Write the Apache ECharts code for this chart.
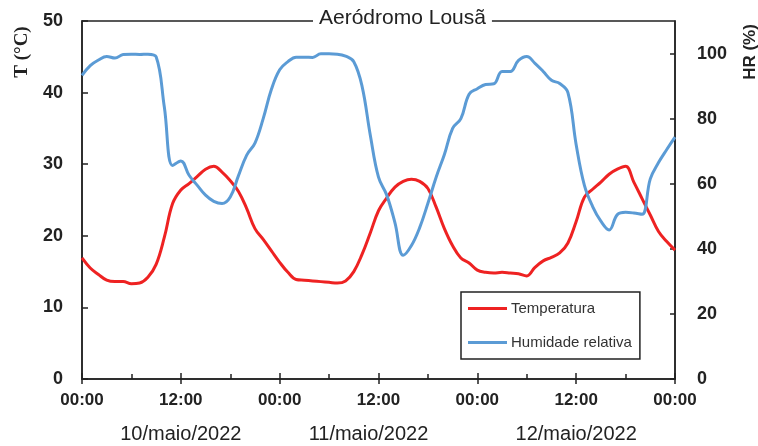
<!DOCTYPE html>
<html>
<head>
<meta charset="utf-8">
<script src="https://cdn.jsdelivr.net/npm/echarts@6/dist/echarts.min.js"></script>
<style>
  html, body { margin: 0; padding: 0; background: #fff; }
  #chart { width: 758px; height: 446px; }
</style>
</head>
<body>
<div id="chart"></div>
<script>
// horas desde 10/maio/2022 00:00
const hours = [
  0, 1, 2, 3, 4, 5, 6, 7, 8, 9, 10, 11,
  12, 13, 14, 15, 16, 17, 18, 19, 20, 21, 22, 23,
  24, 25, 26, 27, 28, 29, 30, 31, 32, 33, 34, 35,
  36, 37, 38, 39, 40, 41, 42, 43, 44, 45, 46, 47,
  48, 49, 50, 51, 52, 53, 54, 55, 56, 57, 58, 59,
  60, 61, 62, 63, 64, 65, 66, 67, 68, 69, 70, 71, 72
];

// Temperatura (°C)
const temperatura = [
  16.9, 15.5, 14.6, 13.8, 13.6, 13.6, 13.3, 13.4, 14.2, 16.0, 19.8, 24.5,
  26.4, 27.3, 28.3, 29.3, 29.7, 28.9, 27.7, 26.2, 23.8, 21.0, 19.5, 17.9,
  16.3, 14.9, 13.9, 13.8, 13.7, 13.6, 13.5, 13.4, 13.7, 15.0, 17.4, 20.4,
  23.5, 25.3, 26.8, 27.6, 27.9, 27.6, 26.6, 24.0, 21.0, 18.6, 16.9, 16.2,
  15.2, 14.9, 14.8, 14.9, 14.8, 14.7, 14.4, 15.6, 16.5, 17.0, 17.6, 19.0,
  22.0, 25.4, 26.5, 27.5, 28.6, 29.3, 29.7, 27.5, 25.2, 22.9, 20.6, 19.2, 18.0
];

// Humidade relativa (%)
const humidade = [
  93.3, 96.3, 98.0, 99.1, 98.6, 99.7, 99.8, 99.7, 99.8, 99.0, 83.5, 65.6,
  67.0, 62.6, 59.5, 56.5, 54.6, 53.9, 55.9, 62.5, 68.8, 72.5, 80.0, 89.0,
  95.0, 97.5, 98.9, 98.9, 98.8, 99.9, 99.9, 99.8, 99.2, 97.5, 90.0, 75.0,
  62.0, 56.5, 48.0, 38.0, 41.0, 46.5, 54.0, 62.0, 69.0, 77.0, 80.0, 87.5,
  89.2, 90.5, 90.7, 94.5, 94.5, 97.9, 99.1, 97.0, 94.5, 91.8, 90.8, 88.0,
  72.0, 59.5, 53.0, 48.5, 45.8, 50.5, 51.2, 51.0, 50.6, 61.5, 66.5, 70.5, 74.3
];

const dias = { 12: '10/maio/2022', 36: '{b|11/maio/2022}', 60: '12/maio/2022' };

const chart = echarts.init(document.getElementById('chart'));

const axisLine = { show: true, onZero: false, lineStyle: { color: '#222', width: 1.5 } };
const boldLabel = { color: '#222', fontFamily: 'Liberation Sans', fontWeight: 'bold', fontSize: 18 };

const option = {
  animation: false,
  title: {
    text: 'Aeródromo Lousã',
    left: 313,
    top: 8,
    padding: [0, 6],
    backgroundColor: '#fff',
    textStyle: { fontFamily: 'Liberation Sans', fontWeight: 'normal', fontSize: 21, color: '#222' }
  },
  legend: {
    orient: 'vertical',
    left: 461,
    top: 292,
    padding: [9, 8, 9, 7],
    itemGap: 19,
    itemWidth: 39,
    itemHeight: 3,
    icon: 'rect',
    borderColor: '#222',
    borderWidth: 1.5,
    backgroundColor: '#fff',
    textStyle: { fontFamily: 'Liberation Sans', fontSize: 15, color: '#333', padding: [0, 0, 0, -1] }
  },
  grid: {
    left: 82,
    right: 83,
    top: 21,
    bottom: 67,
    show: true,
    borderColor: '#222',
    borderWidth: 1.5
  },
  xAxis: [
    {
      type: 'value',
      min: 0,
      max: 72,
      interval: 12,
      axisLine: axisLine,
      axisTick: { show: true, inside: true, length: 6, lineStyle: { color: '#222', width: 1.5 } },
      minorTick: { show: true, splitNumber: 2, length: 5, lineStyle: { color: '#222', width: 1.5 } },
      splitLine: { show: false },
      axisLabel: Object.assign({}, boldLabel, {
        fontSize: 17,
        margin: 13,
        showMaxLabel: true,
        formatter: (v) => (v % 24 === 0 ? '00:00' : '12:00')
      })
    },
    {
      type: 'value',
      position: 'bottom',
      min: 0,
      max: 72,
      interval: 12,
      axisLine: { show: false, onZero: false },
      axisTick: { show: true, inside: false, length: 5, lineStyle: { color: '#222', width: 1.5 } },
      splitLine: { show: false },
      axisLabel: {
        margin: 45,
        color: '#222',
        fontFamily: 'Liberation Sans',
        fontSize: 20,
        formatter: (v) => dias[v] || '',
        rich: { b: { fontFamily: 'Liberation Sans', fontSize: 20, color: '#222', padding: [0, 20, 0, 0] } }
      }
    }
  ],
  yAxis: [
    {
      type: 'value',
      min: 0,
      max: 50,
      interval: 10,
      axisLine: axisLine,
      axisTick: { show: true, inside: true, length: 6, lineStyle: { color: '#222', width: 1.5 } },
      splitLine: { show: false },
      axisLabel: Object.assign({}, boldLabel, { margin: 19 })
    },
    {
      type: 'value',
      min: 0,
      max: 110,
      interval: 20,
      position: 'right',
      axisLine: axisLine,
      axisTick: { show: true, inside: true, length: 5, lineStyle: { color: '#222', width: 1.5 } },
      splitLine: { show: false },
      axisLabel: Object.assign({}, boldLabel, {
        margin: 22,
        showMaxLabel: false,
        formatter: (v) => (v > 100 ? '' : v)
      })
    }
  ],
  graphic: [
    {
      type: 'text',
      x: 22,
      y: 52,
      rotation: Math.PI / 2,
      style: {
        text: 'T (°C)',
        fontFamily: 'Liberation Serif',
        fontWeight: 'bold',
        fontSize: 19,
        fill: '#222',
        align: 'center',
        verticalAlign: 'middle'
      }
    },
    {
      type: 'text',
      x: 750,
      y: 52,
      rotation: Math.PI / 2,
      style: {
        text: 'HR (%)',
        fontFamily: 'Liberation Sans',
        fontWeight: 'bold',
        fontSize: 17,
        fill: '#222',
        align: 'center',
        verticalAlign: 'middle'
      }
    }
  ],
  series: [
    {
      name: 'Temperatura',
      type: 'line',
      xAxisIndex: 0,
      yAxisIndex: 0,
      smooth: 0.4,
      symbol: 'none',
      data: hours.map((h, i) => [h, temperatura[i]]),
      itemStyle: { color: '#EE2222' },
      lineStyle: { width: 3, color: '#EE2222' }
    },
    {
      name: 'Humidade relativa',
      type: 'line',
      xAxisIndex: 0,
      yAxisIndex: 1,
      smooth: 0.4,
      symbol: 'none',
      data: hours.map((h, i) => [h, humidade[i]]),
      itemStyle: { color: '#5B9BD5' },
      lineStyle: { width: 3, color: '#5B9BD5' }
    }
  ]
};

chart.setOption(option);
</script>
</body>
</html>
